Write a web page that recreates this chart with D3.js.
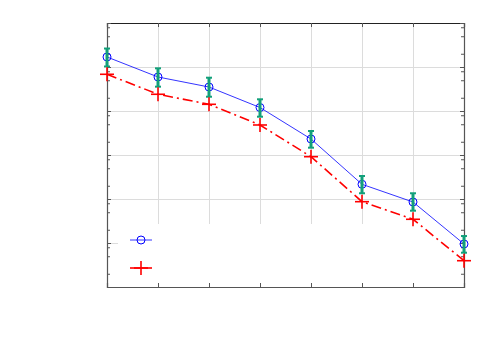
<!DOCTYPE html>
<html>
<head>
<meta charset="utf-8">
<script src="https://cdn.jsdelivr.net/npm/d3@7"></script>
<style>
  body { margin: 0; background: #fff; }
  svg { display: block; }
</style>
</head>
<body>
<svg id="grafico"></svg>
<script>
"use strict"
// dati (asse y logaritmico)
const punti = [1, 2, 3, 4, 5, 6, 7, 8];
const serieBlu = [0.169, 0.0593, 0.0351, 0.0120, 0.00231, 2.16e-4, 8.55e-5, 9.5e-6];
const erroreAlto = [0.263, 0.0934, 0.0571, 0.01845, 0.00351, 3.33e-4, 1.35e-4, 1.44e-5];
const erroreBasso = [0.1026, 0.0357, 0.0211, 0.00742, 0.001466, 1.35e-4, 5.42e-5, 6.02e-6];
const serieRossa = [0.0683, 0.0240, 0.0142, 0.00481, 9.15e-4, 8.69e-5, 3.46e-5, 3.96e-6];
const ticksY = [1e-6, 1e-5, 1e-4, 1e-3, 1e-2, 1e-1, 1];
const minoriY = [];
ticksY.slice(0, -1).forEach(function (t) { [2, 5, 8].forEach(function (m) { minoriY.push(t * m) }) });

const grafico = { w: 500, h: 350 };
const margine = { l: 107, r: 36, t: 23, b: 63 };

const svg = d3.select("#grafico")
    .attr("width", grafico.w)
    .attr("height", grafico.h);

const scalaX = d3.scaleLinear()
    .domain([1, 8])
    .range([margine.l, grafico.w - margine.r]);

const scalaY = d3.scaleLog()
    .domain([1e-6, 1])
    .range([grafico.h - margine.b, margine.t]);

const x0 = scalaX.range()[0], x1 = scalaX.range()[1];
const y0 = scalaY.range()[0], y1 = scalaY.range()[1];

// griglia
const griglia = svg.append("g").attr("stroke", "#dcdcdc").attr("stroke-width", 1);
griglia.selectAll(".gx")
    .data(punti.slice(1, -1))
    .enter().append("line")
    .attr("x1", function (d) { return Math.round(scalaX(d)) + 0.5 })
    .attr("x2", function (d) { return Math.round(scalaX(d)) + 0.5 })
    .attr("y1", y1).attr("y2", y0);
griglia.selectAll(".gy")
    .data(ticksY.slice(1, -1))
    .enter().append("line")
    .attr("y1", function (d) { return Math.round(scalaY(d)) + 0.5 })
    .attr("y2", function (d) { return Math.round(scalaY(d)) + 0.5 })
    .attr("x1", x0).attr("x2", x1);

// riquadro legenda (bianco, senza bordo)
svg.append("rect")
    .attr("x", 118).attr("y", 224)
    .attr("width", x1 - 118 - 1).attr("height", y0 - 224)
    .attr("fill", "#fff");

// assi con tacche interne
const asseX = d3.axisBottom(scalaX).tickValues(punti).tickSize(-4).tickFormat("");
const asseXsopra = d3.axisTop(scalaX).tickValues(punti).tickSize(-4).tickFormat("");
const asseY = d3.axisLeft(scalaY).tickValues(ticksY).tickSize(-4).tickFormat("");
const asseYdx = d3.axisRight(scalaY).tickValues(ticksY).tickSize(-4).tickFormat("");
const minoreY = d3.axisLeft(scalaY).tickValues(minoriY).tickSize(-3).tickFormat("");
const minoreYdx = d3.axisRight(scalaY).tickValues(minoriY).tickSize(-3).tickFormat("");

function assi(g) {
    g.selectAll("path").attr("stroke", "#555").attr("stroke-width", 1.2);
    g.selectAll("line").attr("stroke", "#555");
}
svg.append("g").attr("transform", `translate(0,${y0})`).call(asseX).call(assi);
svg.append("g").attr("transform", `translate(0,${y1})`).call(asseXsopra).call(assi)
    .select("path").attr("stroke", "#222");
svg.append("g").attr("transform", `translate(${x0},0)`).call(asseY).call(assi);
svg.append("g").attr("transform", `translate(${x1},0)`).call(asseYdx).call(assi);
svg.append("g").attr("transform", `translate(${x0},0)`).call(minoreY).call(assi)
    .select("path").remove();
svg.append("g").attr("transform", `translate(${x1},0)`).call(minoreYdx).call(assi)
    .select("path").remove();

// serie blu
const lineaBlu = d3.line()
    .x(function (d, i) { return scalaX(punti[i]) })
    .y(function (d) { return scalaY(d) });
svg.append("path")
    .datum(serieBlu)
    .attr("d", lineaBlu)
    .attr("fill", "none")
    .attr("stroke", "#0000ff")
    .attr("stroke-width", 0.8);
svg.selectAll(".cerchio")
    .data(serieBlu)
    .enter().append("circle")
    .attr("cx", function (d, i) { return scalaX(punti[i]) })
    .attr("cy", function (d) { return scalaY(d) })
    .attr("r", 4)
    .attr("fill", "none")
    .attr("stroke", "#0000ff")
    .attr("stroke-width", 1);

// barre di errore
const barre = svg.append("g").attr("stroke", "#12a07a");
punti.forEach(function (p, i) {
    const cx = scalaX(p);
    barre.append("line")
        .attr("x1", cx).attr("x2", cx)
        .attr("y1", scalaY(erroreAlto[i])).attr("y2", scalaY(erroreBasso[i]))
        .attr("stroke-width", 3);
    [erroreAlto[i], erroreBasso[i]].forEach(function (v) {
        barre.append("line")
            .attr("x1", cx - 3).attr("x2", cx + 3)
            .attr("y1", scalaY(v)).attr("y2", scalaY(v))
            .attr("stroke-width", 2);
    });
});

// serie rossa
svg.append("path")
    .datum(serieRossa)
    .attr("d", lineaBlu)
    .attr("fill", "none")
    .attr("stroke", "#ff0000")
    .attr("stroke-width", 1.6)
    .attr("stroke-dasharray", "10,4,2,4");
function croce(g, cx, cy) {
    g.append("line").attr("x1", cx - 7).attr("x2", cx + 7).attr("y1", cy).attr("y2", cy);
    g.append("line").attr("x1", cx).attr("x2", cx).attr("y1", cy - 7).attr("y2", cy + 7);
}
const croci = svg.append("g").attr("stroke", "#ff0000").attr("stroke-width", 1.6);
serieRossa.forEach(function (d, i) { croce(croci, scalaX(punti[i]), scalaY(d)) });

// legenda
const leg = svg.append("g");
leg.append("line").attr("x1", 130).attr("x2", 152).attr("y1", 240).attr("y2", 240)
    .attr("stroke", "#0000ff").attr("stroke-width", 0.8);
leg.append("circle").attr("cx", 141).attr("cy", 240).attr("r", 4)
    .attr("fill", "none").attr("stroke", "#0000ff");
const legRossa = leg.append("g").attr("stroke", "#ff0000").attr("stroke-width", 1.6);
legRossa.append("line").attr("x1", 130).attr("x2", 152).attr("y1", 268).attr("y2", 268);
croce(legRossa, 141, 268);
</script>
</body>
</html>
